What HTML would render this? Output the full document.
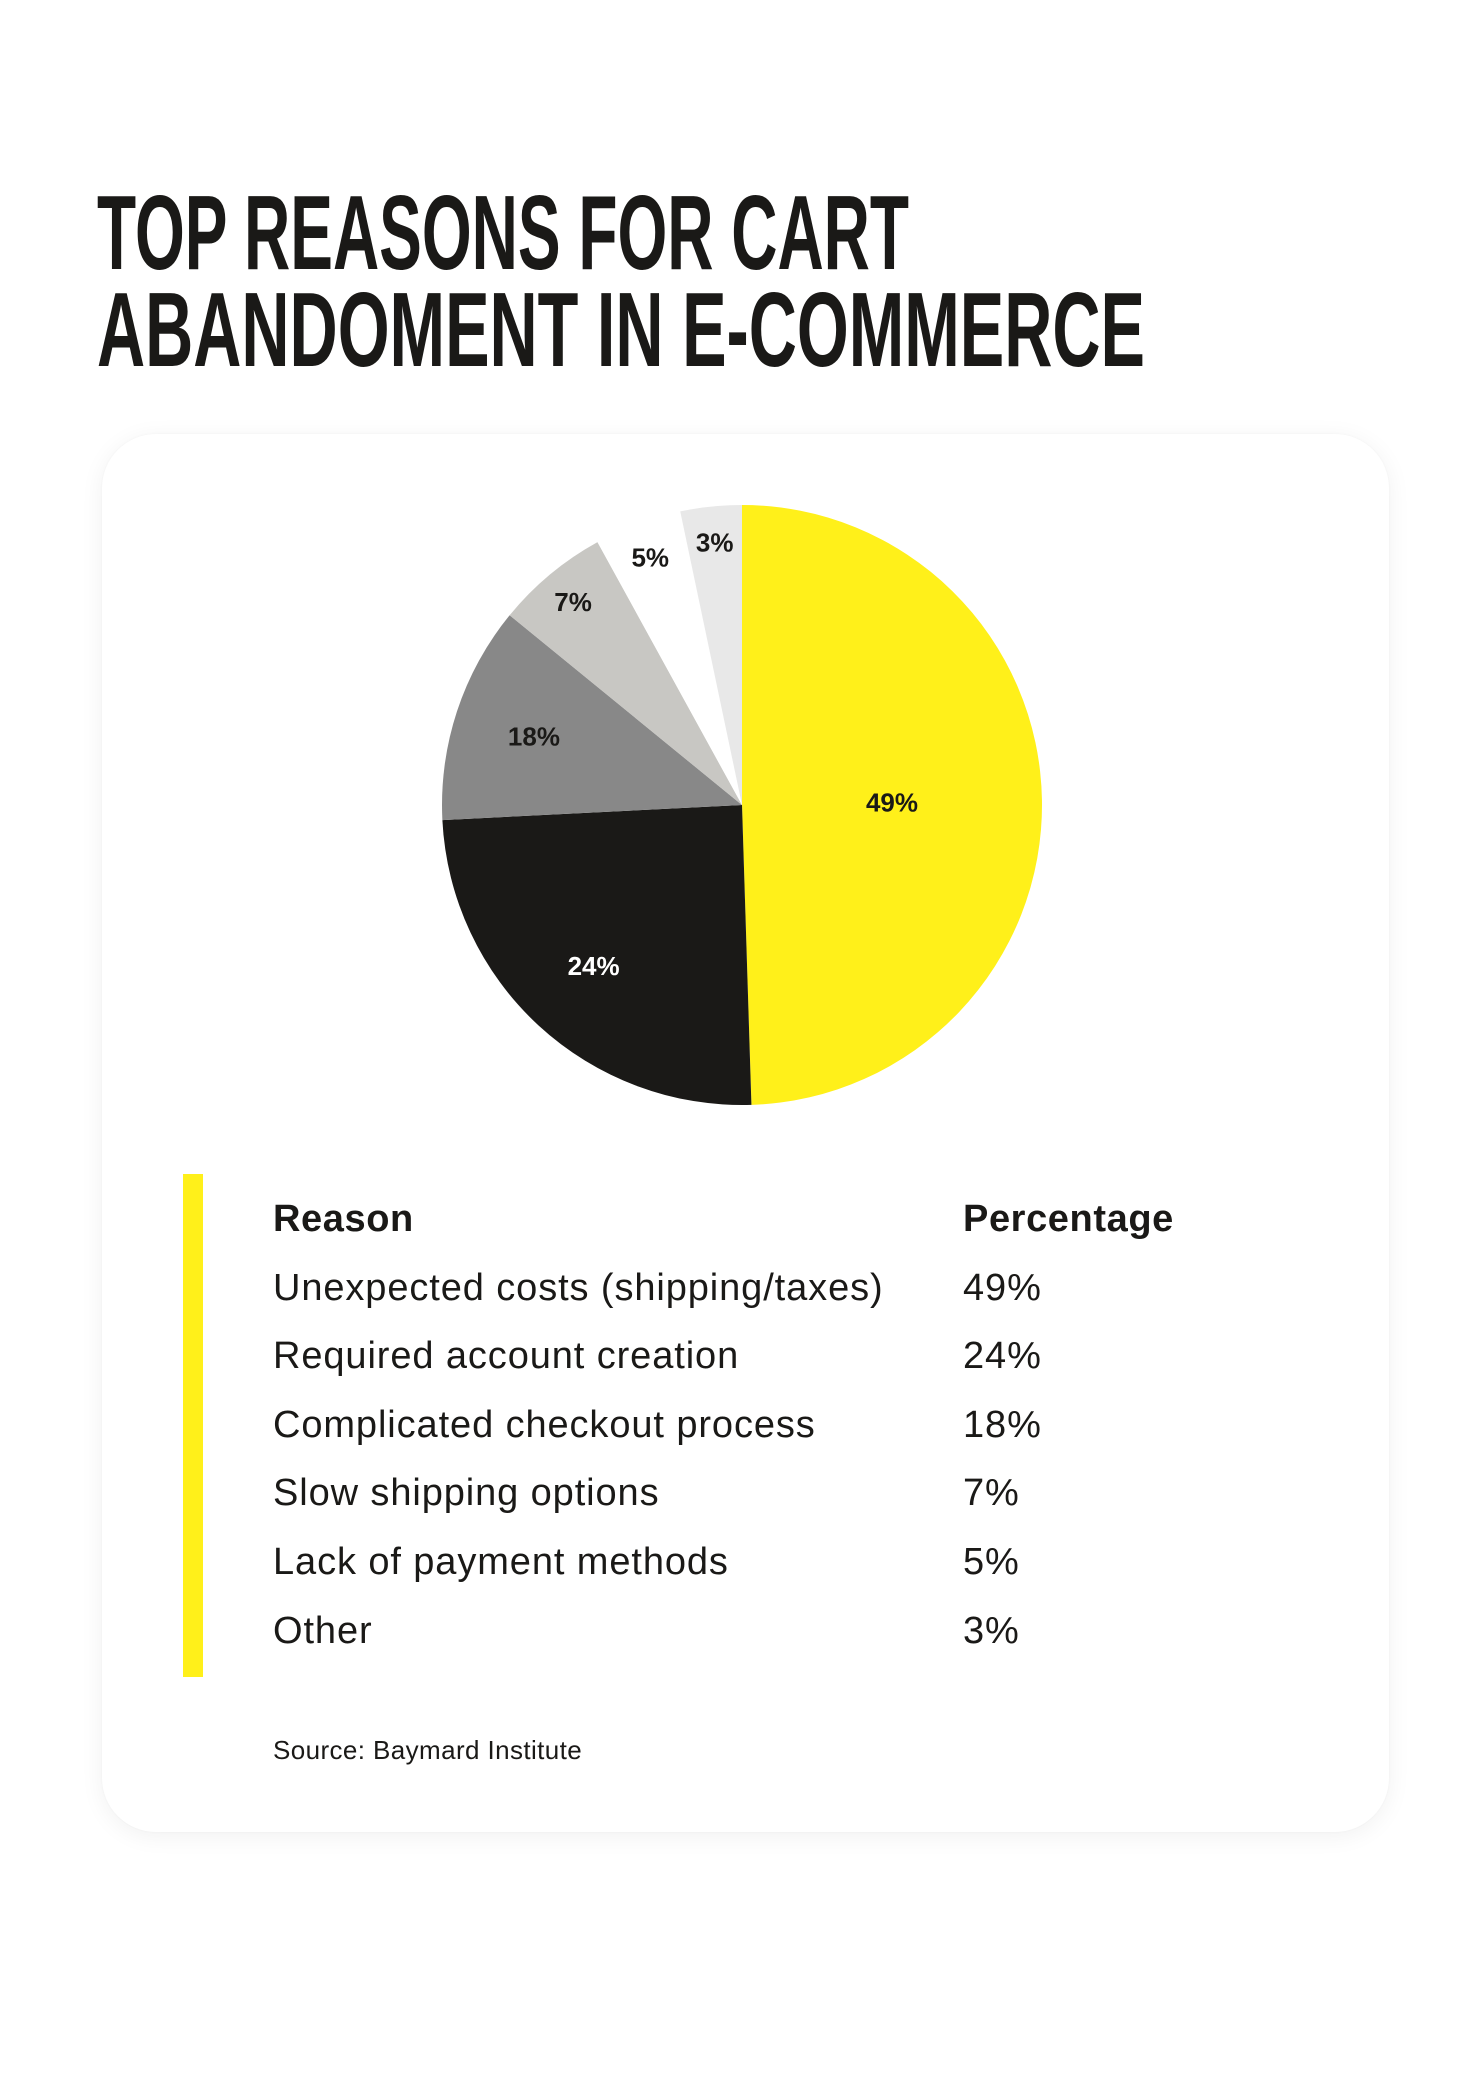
<!DOCTYPE html>
<html><head><meta charset="utf-8">
<style>
html,body{margin:0;padding:0;background:#fff;}
body{width:1480px;height:2100px;position:relative;overflow:hidden;font-family:"Liberation Sans",sans-serif;color:#1a1917;}
#title{position:absolute;left:0;top:0;}
#card{position:absolute;left:102px;top:434px;width:1287px;height:1398px;background:#fff;border-radius:54px;box-shadow:0 4px 24px rgba(0,0,0,0.06),0 0 2px rgba(0,0,0,0.04);}
#pie{position:absolute;left:0;top:0;}
#bar{position:absolute;left:183px;top:1174px;width:20px;height:503px;background:#fff01a;}
.row{position:absolute;left:273px;font-size:38px;letter-spacing:0.9px;line-height:1;white-space:nowrap;}
.pct{position:absolute;left:963px;font-size:38px;letter-spacing:0.9px;line-height:1;white-space:nowrap;}
.hd{font-weight:bold;letter-spacing:0.6px;}
#source{position:absolute;left:273px;top:1735px;font-size:26px;letter-spacing:0.4px;}
</style></head>
<body>
<svg id="title" width="1480" height="400">
  <text x="97" y="269" font-family="Liberation Sans" font-weight="bold" font-size="106" fill="#1a1917" textLength="812" lengthAdjust="spacingAndGlyphs">TOP REASONS FOR CART</text>
  <text x="97" y="366" font-family="Liberation Sans" font-weight="bold" font-size="106" fill="#1a1917" textLength="1048" lengthAdjust="spacingAndGlyphs">ABANDOMENT IN E-COMMERCE</text>
</svg>
<div id="card"></div>
<svg id="pie" width="1480" height="1200"></svg>
<div id="bar"></div>
<div id="table"></div>
<div id="source">Source: Baymard Institute</div>
<script>
const categories = ["Unexpected costs (shipping/taxes)","Required account creation","Complicated checkout process","Slow shipping options","Lack of payment methods","Other"];
const values = [49,24,18,7,5,3];
const shares = [49.5,24.7,11.7,6.1,4.7,3.3];
const colors = ["#fff01a","#1a1917","#888888","#c8c7c3","#ffffff","#e8e8e8"];
const labelColors = ["#1a1917","#ffffff","#1a1917","#1a1917","#1a1917","#1a1917"];

const NS="http://www.w3.org/2000/svg";
const svg=document.getElementById('pie');
const cx=742, cy=805, R=300;
const total=shares.reduce((a,b)=>a+b,0);
function angleOf(v){return v/total*2*Math.PI;}
function pt(a,r){return [cx+r*Math.sin(a), cy-r*Math.cos(a)];}
let start=0;
shares.forEach((s,i)=>{
  const end=start+angleOf(s);
  const [x1,y1]=pt(start,R),[x2,y2]=pt(end,R);
  const large=(end-start)>Math.PI?1:0;
  const p=document.createElementNS(NS,'path');
  p.setAttribute('d',`M${cx},${cy} L${x1},${y1} A${R},${R} 0 ${large} 1 ${x2},${y2} Z`);
  p.setAttribute('fill',colors[i]);
  
  
  svg.appendChild(p);
  const mid=(start+end)/2;
  const frac=s>40?0.5:(s>10?0.73:0.88);
  const [lx,ly]=pt(mid,R*frac);
  const t=document.createElementNS(NS,'text');
  t.setAttribute('x',lx);t.setAttribute('y',ly+9);
  t.setAttribute('text-anchor','middle');
  t.setAttribute('font-family','Liberation Sans');
  t.setAttribute('font-weight','bold');
  t.setAttribute('font-size','26');
  t.setAttribute('fill',labelColors[i]);
  t.textContent=values[i]+'%';
  
  
  svg.appendChild(t);
  start=end;
});

const table=document.getElementById('table');
const baseTop=1200, step=68.6;
function addRow(txt,cls,top,name){
  const d=document.createElement('div');
  d.className=cls; d.style.top=top+'px'; d.textContent=txt;
  
  
  table.appendChild(d);
}
addRow('Reason','row hd',baseTop,'reason-header');
addRow('Percentage','pct hd',baseTop,'percentage-header');
categories.forEach((c,i)=>{
  addRow(c,'row',baseTop+step*(i+1),'reason-'+(i+1));
  addRow(values[i]+'%','pct',baseTop+step*(i+1),'percentage-'+(i+1));
});
</script>
</body></html>
